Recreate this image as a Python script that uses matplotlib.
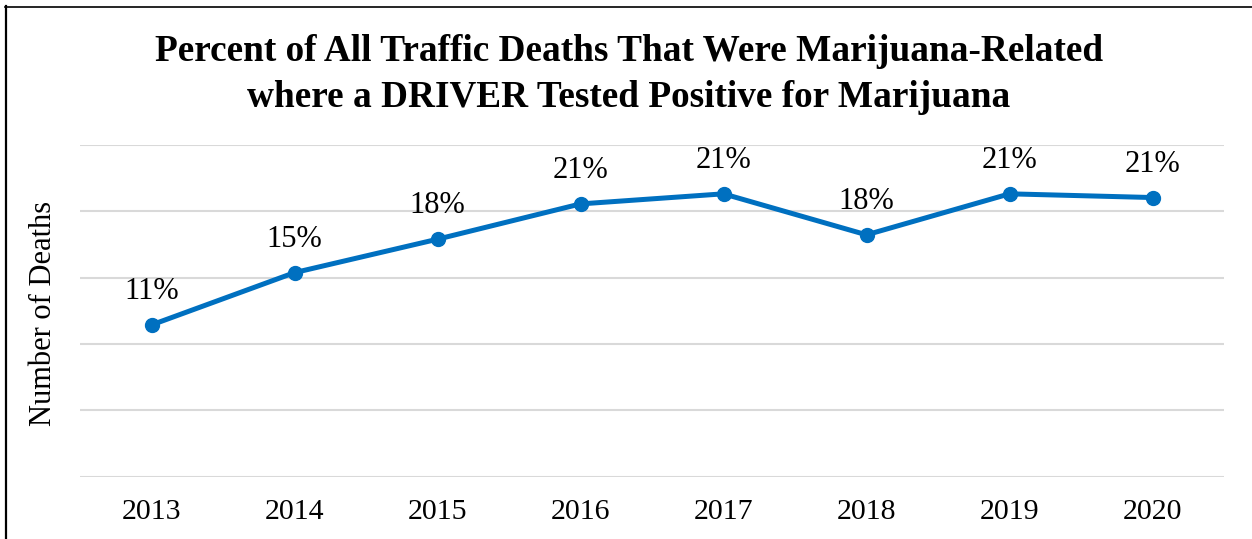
import matplotlib
matplotlib.use("Agg")
import matplotlib.pyplot as plt
from matplotlib.lines import Line2D

years = ["2013", "2014", "2015", "2016", "2017", "2018", "2019", "2020"]
values = [11.44, 15.38, 17.9, 20.56, 21.32, 18.23, 21.32, 21.04]
labels = ["11%", "15%", "18%", "21%", "21%", "18%", "21%", "21%"]
yticks = [0, 5, 10, 15, 20, 25]

W, H = 1252, 539
fig = plt.figure(figsize=(W / 100, H / 100), dpi=100)
plt.rcParams['font.family'] = ['Liberation Serif', 'DejaVu Serif']

ax = fig.add_axes([80 / W, 1 - 476.7 / H, (1224 - 80) / W, (476.7 - 145) / H])
x = list(range(len(years)))
ax.plot(x, values, color="#0070C0", lw=3.6, marker="o", ms=10, solid_capstyle="round", zorder=3)
for xi, v, lab in zip(x, values, labels):
    ax.annotate(lab, (xi, v), xytext=(0, 18.7), textcoords="offset points",
                ha="center", va="baseline", fontsize=22, color="black")

ax.set_xlim(-0.5, 7.5)
ax.set_ylim(0, 25)
ax.set_yticks(yticks)
ax.set_yticklabels([])
ax.set_xticks(x)
ax.set_xticklabels(years, fontsize=21.5)
ax.tick_params(axis="both", length=0)
ax.tick_params(axis="x", pad=16)
ax.grid(axis="y", color="#D9D9D9", lw=1.5)
ax.set_axisbelow(True)
for s in ax.spines.values():
    s.set_visible(False)

fig.text(44 / W, 1 - 313 / H, "Number of Deaths", rotation=90,
         ha="center", va="center", fontsize=22)

fig.text(629 / W, 1 - 61 / H, "Percent of All Traffic Deaths That Were Marijuana-Related",
         ha="center", va="baseline", fontsize=26.8, fontweight="bold")
fig.text(629 / W, 1 - 107 / H, "where a DRIVER Tested Positive for Marijuana",
         ha="center", va="baseline", fontsize=26.8, fontweight="bold")

fig.add_artist(Line2D([6 / W, 6 / W], [0, 1 - 6 / H], transform=fig.transFigure, color="black", lw=1.6))
fig.add_artist(Line2D([5 / W, 1], [1 - 6.5 / H, 1 - 6.5 / H], transform=fig.transFigure, color="black", lw=1.2))

fig.savefig("out.png", dpi=100)
